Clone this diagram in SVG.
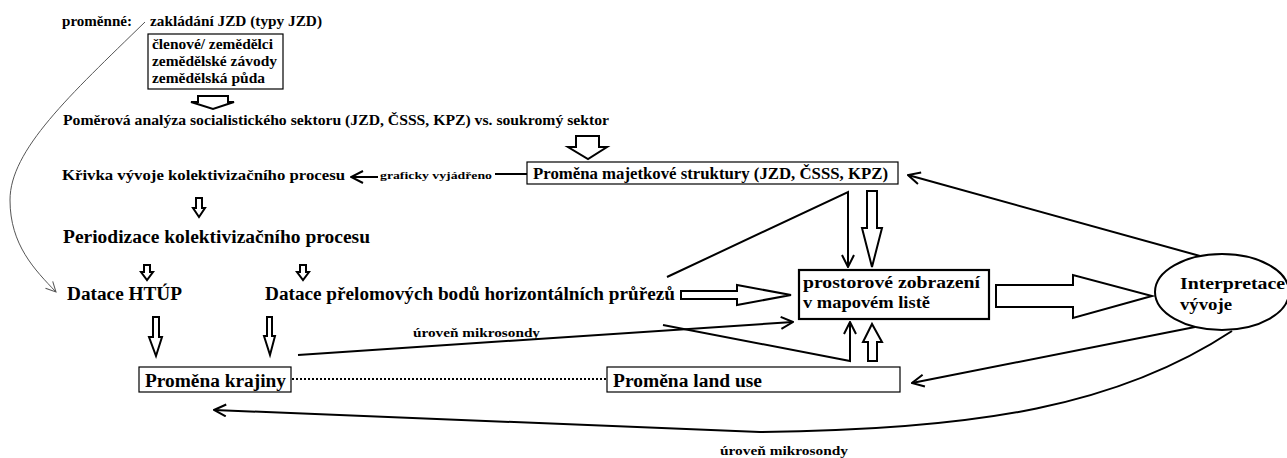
<svg xmlns="http://www.w3.org/2000/svg" width="1287" height="458" viewBox="0 0 1287 458">
<defs>
<style>
text{font-family:"Liberation Serif","Times New Roman",serif;font-weight:bold;fill:#000}
.box{fill:#fff;stroke:#000;stroke-width:1.2}
.box2{fill:#fff;stroke:#000;stroke-width:2.2}
.blk{fill:#fff;stroke:#000;stroke-width:2;stroke-linejoin:miter}
.ln{fill:none;stroke:#000;stroke-width:2}
.thin{fill:none;stroke:#555;stroke-width:1}
</style>
<marker id="ah" viewBox="0 0 14 14" refX="13" refY="7" markerWidth="14" markerHeight="14" markerUnits="userSpaceOnUse" orient="auto">
<path d="M1,1 L13,7 L1,13" fill="none" stroke="#000" stroke-width="2"/>
</marker>
<marker id="ahs" viewBox="0 0 12 12" refX="11" refY="6" markerWidth="12" markerHeight="12" markerUnits="userSpaceOnUse" orient="auto">
<path d="M1,1 L11,6 L1,11" fill="none" stroke="#555" stroke-width="1"/>
</marker>
</defs>
<rect width="1287" height="458" fill="#fff"/>

<g id="connectors">
<path class="thin" d="M145,22 C70,95 10,150 10,200 C10,245 35,270 56,292" marker-end="url(#ahs)"/>
<polygon class="blk" points="198,96 228,96 228,102 234,102 213,109 191,102 198,102"/>
<polygon class="blk" points="576,136 599,136 599,147 607,147 588,159 568,147 576,147"/>
<line class="ln" x1="378" y1="177" x2="351" y2="177" marker-end="url(#ah)"/>
<line class="ln" x1="495" y1="174" x2="527" y2="174"/>
<polygon class="blk" points="196,198 202,198 202,208 205,208 199,217 193,208 196,208"/>
<polygon class="blk" points="144,265 150,265 150,272 153,272 147,280 141,272 144,272"/>
<polygon class="blk" points="300,265 306,265 306,272 309,272 303,280 297,272 300,272"/>
<polygon class="blk" points="153,317 159,317 159,337 162,337 156,356 149,337 153,337"/>
<polygon class="blk" points="267,317 272,317 272,336 275,336 270,355 264,336 267,336"/>
<polyline class="ln" points="667,277 848,192 848,267" marker-end="url(#ah)"/>
<polygon class="blk" points="867,191 877,191 877,228 882,228 872,267 862,228 867,228"/>
<polygon class="blk" points="681,291 737,291 737,285 791,295 737,305 737,299 681,299"/>
<polyline class="ln" points="663,325 850,361 850,322" marker-end="url(#ah)"/>
<polygon class="blk" points="868,361 877,361 877,342 882,342 872,324 863,342 868,342"/>
<line class="ln" x1="298" y1="355" x2="793" y2="322" marker-end="url(#ah)"/>
<line x1="292" y1="379" x2="607" y2="379" stroke="#000" stroke-width="2" stroke-dasharray="2,2"/>
<polygon class="blk" points="996,285 1073,285 1073,275 1152,296 1073,318 1073,307 996,307"/>
<line class="ln" x1="1200" y1="256" x2="908" y2="175" marker-end="url(#ah)"/>
<line class="ln" x1="1195" y1="327" x2="912" y2="383" marker-end="url(#ah)"/>
<path class="ln" d="M1232,331 C1120,405 980,430 760,432 L214,410" marker-end="url(#ah)"/>
<text x="380" y="179" font-size="10" textLength="112" lengthAdjust="spacingAndGlyphs">graficky vyjádřeno</text>
<text x="413" y="337" font-size="12" textLength="127" lengthAdjust="spacingAndGlyphs">úroveň mikrosondy</text>
<text x="720" y="455" font-size="12" textLength="128" lengthAdjust="spacingAndGlyphs">úroveň mikrosondy</text>
</g>

<g id="n-promenne">
<text x="62" y="26" font-size="14" textLength="70" lengthAdjust="spacingAndGlyphs">proměnné:</text>
</g>
<g id="n-zakladani">
<text x="150" y="26" font-size="15" textLength="172" lengthAdjust="spacingAndGlyphs">zakládání JZD (typy JZD)</text>
</g>
<g id="n-variables">
<rect class="box" x="148" y="34" width="135" height="55"/>
<text x="152" y="49" font-size="14" textLength="121" lengthAdjust="spacingAndGlyphs">členové/ zemědělci</text>
<text x="152" y="66" font-size="14" textLength="125" lengthAdjust="spacingAndGlyphs">zemědělské závody</text>
<text x="152" y="83" font-size="14" textLength="113" lengthAdjust="spacingAndGlyphs">zemědělská půda</text>
</g>
<g id="n-pomerova">
<text x="63" y="125" font-size="14" textLength="546" lengthAdjust="spacingAndGlyphs">Poměrová analýza socialistického sektoru (JZD, ČSSS, KPZ) vs. soukromý sektor</text>
</g>
<g id="n-krivka">
<text x="62" y="180" font-size="15" textLength="283" lengthAdjust="spacingAndGlyphs">Křivka vývoje kolektivizačního procesu</text>
</g>
<g id="n-majetkove">
<rect class="box" x="527" y="162" width="371" height="22"/>
<text x="533" y="179" font-size="17" textLength="355" lengthAdjust="spacingAndGlyphs">Proměna majetkové struktury (JZD, ČSSS, KPZ)</text>
</g>
<g id="n-periodizace">
<text x="63" y="243" font-size="18" textLength="307" lengthAdjust="spacingAndGlyphs">Periodizace kolektivizačního procesu</text>
</g>
<g id="n-htup">
<text x="67" y="300" font-size="18" textLength="115" lengthAdjust="spacingAndGlyphs">Datace HTÚP</text>
</g>
<g id="n-datace">
<text x="265" y="300" font-size="18" textLength="410" lengthAdjust="spacingAndGlyphs">Datace přelomových bodů horizontálních průřezů</text>
</g>
<g id="n-prostorove">
<rect class="box2" x="799" y="270" width="190" height="49"/>
<text x="803" y="288" font-size="17" textLength="177" lengthAdjust="spacingAndGlyphs">prostorové zobrazení</text>
<text x="803" y="308" font-size="17" textLength="127" lengthAdjust="spacingAndGlyphs">v mapovém listě</text>
</g>
<g id="n-interpretace">
<ellipse cx="1222" cy="292" rx="67" ry="38" fill="#fff" stroke="#000" stroke-width="2"/>
<text x="1180" y="289" font-size="17" textLength="105" lengthAdjust="spacingAndGlyphs">Interpretace</text>
<text x="1180" y="310" font-size="17" textLength="52" lengthAdjust="spacingAndGlyphs">vývoje</text>
</g>
<g id="n-krajiny">
<rect class="box" x="139" y="367" width="152" height="25"/>
<text x="145" y="387" font-size="18" textLength="141" lengthAdjust="spacingAndGlyphs">Proměna krajiny</text>
</g>
<g id="n-landuse">
<rect class="box" x="607" y="367" width="293" height="25"/>
<text x="613" y="387" font-size="18" textLength="149" lengthAdjust="spacingAndGlyphs">Proměna land use</text>
</g>
</svg>
